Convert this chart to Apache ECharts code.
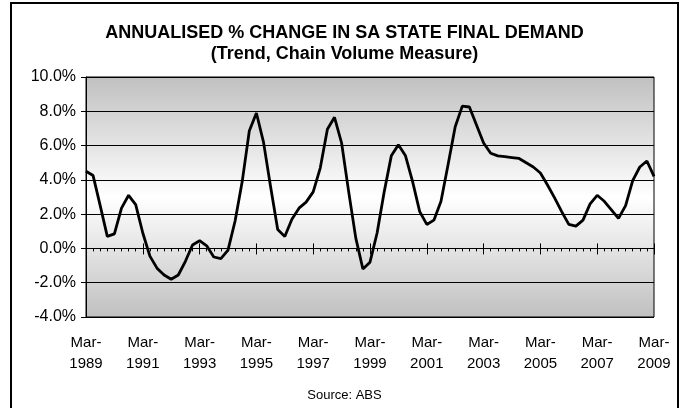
<!DOCTYPE html>
<html>
<head>
<meta charset="utf-8">
<script src="https://cdn.jsdelivr.net/npm/echarts@6/dist/echarts.min.js"></script>
<style>
  html, body { margin: 0; padding: 0; background: #fff; }
  #chart { width: 689px; height: 408px; }
</style>
</head>
<body>
<div id="chart"></div>
<script>
// quarters Mar-1989 .. Mar-2009
var years = [1989, 1990, 1991, 1992, 1993, 1994, 1995, 1996, 1997, 1998, 1999,
             2000, 2001, 2002, 2003, 2004, 2005, 2006, 2007, 2008, 2009];
var months = ["Mar", "Jun", "Sep", "Dec"];
var quarters = [];
years.forEach(function (y) {
  months.forEach(function (m) {
    if (y === 2009 && m !== "Mar") return;
    quarters.push(m + "-" + y);
  });
});

// annualised % change, SA state final demand
var demandChange = [
  4.5, 4.25, 2.5, 0.7, 0.85, 2.35, 3.1, 2.55,
  0.9, -0.45, -1.15, -1.55, -1.8, -1.55, -0.75, 0.2,
  0.45, 0.15, -0.5, -0.6, -0.1, 1.6, 3.9, 6.85,
  7.9, 6.2, 3.6, 1.1, 0.7, 1.7, 2.35, 2.7,
  3.3, 4.7, 6.95, 7.65, 6.15, 3.3, 0.6, -1.2,
  -0.8, 0.9, 3.3, 5.4, 6.05, 5.4, 3.9, 2.15,
  1.4, 1.65, 2.75, 4.9, 7.1, 8.3, 8.25, 7.2,
  6.15, 5.55, 5.4, 5.35, 5.3, 5.25, 5.0, 4.75,
  4.4, 3.7, 2.95, 2.15, 1.4, 1.3, 1.65, 2.6,
  3.1, 2.75, 2.25, 1.75, 2.5, 3.95, 4.75, 5.1,
  4.2
];

var yMin = -4, yMax = 10, yStep = 2;

var chart = echarts.init(document.getElementById("chart"));
var font = "Liberation Sans, Arial, sans-serif";

var plainAxis = function (extra) {
  var ax = {
    type: "category",
    data: quarters,
    boundaryGap: false,
    position: "bottom",
    axisLine: { show: false },
    axisTick: { show: false },
    axisLabel: { show: false },
    splitLine: { show: false }
  };
  for (var k in extra) ax[k] = extra[k];
  return ax;
};

var zeroLine = { show: true, onZero: true, onZeroAxisIndex: 0, lineStyle: { color: "#000", width: 1 } };

chart.setOption({
  animation: false,
  backgroundColor: "#fff",
  textStyle: { fontFamily: font },
  title: [
    {
      text: "ANNUALISED % CHANGE IN SA STATE FINAL DEMAND\n(Trend, Chain Volume Measure)",
      left: "center",
      top: 18,
      textStyle: { fontSize: 18, fontWeight: "bold", color: "#000", lineHeight: 21, fontFamily: font }
    },
    {
      text: "Source: ABS",
      left: "center",
      top: 384,
      textStyle: { fontSize: 13, fontWeight: "normal", color: "#000", fontFamily: font }
    }
  ],
  graphic: [
    {
      type: "rect",
      shape: { x: 11, y: 3, width: 667, height: 412 },
      style: { fill: null, stroke: "#000", lineWidth: 2 },
      silent: true
    }
  ],
  grid: {
    left: 86,
    right: 35,
    top: 77,
    bottom: 91,
    show: true,
    borderColor: "#000",
    borderWidth: 1,
    backgroundColor: new echarts.graphic.LinearGradient(0, 0, 0, 1, [
      { offset: 0, color: "#c0c0c0" },
      { offset: 0.5, color: "#ffffff" },
      { offset: 1, color: "#c0c0c0" }
    ])
  },
  xAxis: [
    // labels at the bottom
    plainAxis({
      axisLine: { show: false, onZero: false },
      axisLabel: {
        show: true,
        interval: 7,
        margin: 15,
        fontSize: 15,
        lineHeight: 21,
        color: "#000",
        fontFamily: font,
        formatter: function (v) { return v.replace("-", "-\n"); }
      }
    }),
    // zero line with quarterly ticks
    plainAxis({
      axisLine: zeroLine,
      axisTick: { show: true, interval: 0, length: 3, lineStyle: { color: "#000" } }
    }),
    // major ticks above the line
    plainAxis({
      axisLine: zeroLine,
      axisTick: { show: true, interval: 7, inside: true, length: 5, lineStyle: { color: "#000" } }
    }),
    // major ticks below the line
    plainAxis({
      axisLine: zeroLine,
      axisTick: { show: true, interval: 7, length: 6, lineStyle: { color: "#000" } }
    })
  ],
  yAxis: {
    type: "value",
    min: yMin,
    max: yMax,
    interval: yStep,
    axisLine: { show: true, lineStyle: { color: "#000" } },
    axisTick: { show: true, length: 5, lineStyle: { color: "#000" } },
    axisLabel: {
      margin: 10,
      fontSize: 16,
      color: "#000",
      fontFamily: font,
      formatter: function (v) { return v.toFixed(1) + "%"; }
    },
    splitLine: { show: true, lineStyle: { color: "#000", width: 1 } }
  },
  series: [
    {
      type: "line",
      data: demandChange,
      xAxisIndex: 1,
      showSymbol: false,
      symbol: "none",
      lineStyle: { color: "#000", width: 2.8 },
      z: 5
    }
  ]
});
</script>
</body>
</html>
